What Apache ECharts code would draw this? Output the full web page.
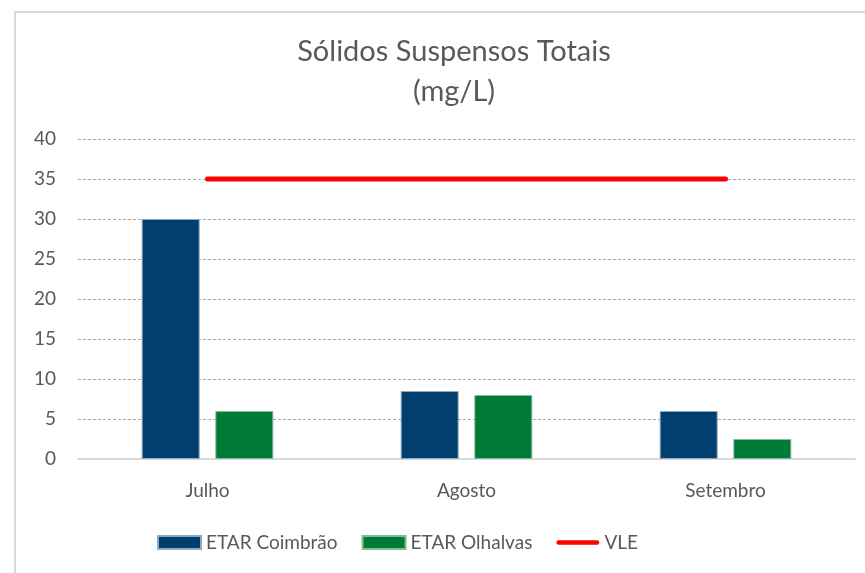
<!DOCTYPE html>
<html>
<head>
<meta charset="utf-8">
<script src="https://cdn.jsdelivr.net/npm/echarts@6/dist/echarts.min.js"></script>
<style>
  html, body { margin: 0; padding: 0; background: #fff; }
  #chart { width: 865px; height: 573px; }
</style>
</head>
<body>
<div id="chart"></div>
<script>
// dados do gráfico
const months = ['Julho', 'Agosto', 'Setembro']
const coimbrao = [30, 8.5, 6]
const olhalvas = [6, 8, 2.5]
const vle = [35, 35, 35]

const textColor = '#595959'
const font = 'Lato'

const chart = echarts.init(document.getElementById('chart'))

chart.setOption({
  animation: false,
  textStyle: { fontFamily: font, color: textColor },
  graphic: [{
    type: 'rect',
    shape: { x: 15, y: 12, width: 900, height: 700 },
    style: { fill: 'none', stroke: '#d9d9d9', lineWidth: 2 },
    silent: true
  }],
  title: {
    text: 'Sólidos Suspensos Totais\n(mg/L)',
    left: 449,
    top: 27,
    textAlign: 'center',
    textStyle: { fontFamily: font, fontSize: 29, fontWeight: 'normal', color: textColor, lineHeight: 40 }
  },
  legend: {
    bottom: 16,
    left: 152,
    itemWidth: 43,
    itemHeight: 13,
    itemGap: 24,
    textStyle: { fontFamily: font, fontSize: 19, color: textColor },
    data: [
      { name: 'ETAR Coimbrão', icon: 'rect' },
      { name: 'ETAR Olhalvas', icon: 'rect' },
      { name: 'VLE', icon: 'path://M2.5,0 L43.5,0 A2.5,2.5 0 0 1 43.5,5 L2.5,5 A2.5,2.5 0 0 1 2.5,0 Z' }
    ]
  },
  grid: { left: 78, right: 10, top: 139, bottom: 114, containLabel: false },
  xAxis: {
    type: 'category',
    data: months,
    axisTick: { show: false },
    axisLine: { lineStyle: { color: '#d9d9d9', width: 2 } },
    axisLabel: { fontFamily: font, fontSize: 19, color: textColor, margin: 22 }
  },
  yAxis: {
    type: 'value',
    min: 0,
    max: 40,
    interval: 5,
    axisLine: { show: false },
    axisTick: { show: false },
    axisLabel: { fontFamily: font, fontSize: 19, color: textColor, margin: 22 },
    splitLine: { lineStyle: { color: '#aaaaaa', type: [3, 2], width: 1 } }
  },
  series: [
    {
      name: 'ETAR Coimbrão',
      type: 'bar',
      data: coimbrao,
      barWidth: 58,
      barGap: '27%',
      itemStyle: { color: '#003f6e', borderColor: '#8ea9c1', borderWidth: 1 }
    },
    {
      name: 'ETAR Olhalvas',
      type: 'bar',
      data: olhalvas,
      barWidth: 58,
      barGap: '27%',
      itemStyle: { color: '#007a37', borderColor: '#80bc9b', borderWidth: 1 }
    },
    {
      name: 'VLE',
      type: 'line',
      data: vle,
      symbol: 'none',
      lineStyle: { color: '#ff0000', width: 5, cap: 'round' },
      itemStyle: { color: '#ff0000' },
      z: 5
    }
  ]
})
</script>
</body>
</html>
